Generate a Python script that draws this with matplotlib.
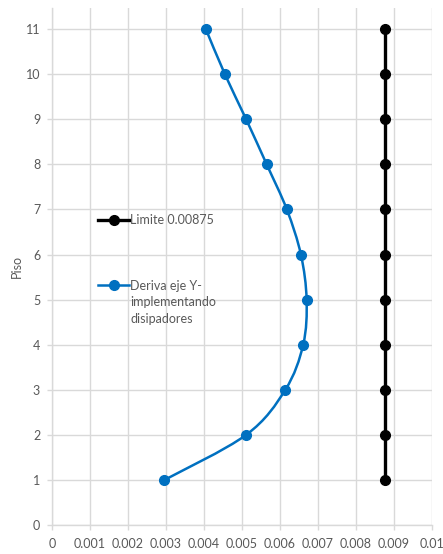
import matplotlib
matplotlib.use("Agg")
import matplotlib.pyplot as plt
from matplotlib.path import Path
from matplotlib.patches import PathPatch
from matplotlib.legend_handler import HandlerLine2D
from matplotlib.lines import Line2D

# data
pisos = [1, 2, 3, 4, 5, 6, 7, 8, 9, 10, 11]
deriva_y = [0.00296, 0.00511, 0.00614, 0.00661, 0.00670, 0.00655,
            0.00618, 0.00565, 0.00511, 0.00455, 0.00405]
limite = [0.00875] * len(pisos)
xticks = [0, 0.001, 0.002, 0.003, 0.004, 0.005, 0.006, 0.007, 0.008, 0.009, 0.01]
xtick_labels = ["0", "0.001", "0.002", "0.003", "0.004", "0.005",
                "0.006", "0.007", "0.008", "0.009", "0.01"]
yticks = list(range(0, 12))

GRAY = "#595959"
GRID = "#d9d9d9"
BLUE = "#0070c0"

plt.rcParams["font.family"] = ["Lato", "DejaVu Sans"]


def smooth_path(xs, ys):
    # excel-like smoothed line: catmull-rom segments as cubic beziers
    pts = list(zip(xs, ys))
    verts = [pts[0]]
    codes = [Path.MOVETO]
    n = len(pts)
    for i in range(n - 1):
        p0 = pts[max(i - 1, 0)]
        p1 = pts[i]
        p2 = pts[i + 1]
        p3 = pts[min(i + 2, n - 1)]
        c1 = (p1[0] + (p2[0] - p0[0]) / 6, p1[1] + (p2[1] - p0[1]) / 6)
        c2 = (p2[0] - (p3[0] - p1[0]) / 6, p2[1] - (p3[1] - p1[1]) / 6)
        verts += [c1, c2, p2]
        codes += [Path.CURVE4] * 3
    return Path(verts, codes)


class RaisedHandler(HandlerLine2D):
    # put the legend line next to the first line of a wrapped label
    def __init__(self, raise_pts, **kw):
        super().__init__(**kw)
        self.raise_pts = raise_pts

    def create_artists(self, legend, orig_handle, xdescent, ydescent,
                       width, height, fontsize, trans):
        return super().create_artists(legend, orig_handle, xdescent,
                                      ydescent - 2 * self.raise_pts,
                                      width, height, fontsize, trans)


fig = plt.figure(figsize=(4.43, 5.54), dpi=100)
ax = fig.add_axes([52 / 443, 1 - 525 / 554, 380 / 443, 517 / 554])

ax.set_xlim(0, 0.01)
ax.set_ylim(0, 11.47)

# limit line
ax.plot(limite, pisos, color="black", lw=2.4, marker="o", ms=7,
        label="Limite 0.00875", zorder=3)

# drift curve, smoothed
ax.add_patch(PathPatch(smooth_path(deriva_y, pisos), facecolor="none",
                       edgecolor=BLUE, lw=1.8, zorder=3))
ax.plot(deriva_y, pisos, ls="none", marker="o", ms=7, color=BLUE, zorder=4)
blue_handle = Line2D([], [], color=BLUE, lw=1.8, marker="o", ms=7)

ax.set_xticks(xticks)
ax.set_xticklabels(xtick_labels)
ax.set_yticks(yticks)
ax.grid(True, color=GRID, lw=1)
ax.set_axisbelow(True)
for s in ["top", "right"]:
    ax.spines[s].set_visible(False)
for s in ["left", "bottom"]:
    ax.spines[s].set_color(GRID)
    ax.spines[s].set_linewidth(1)
ax.tick_params(colors=GRID, labelcolor=GRAY, labelsize=9, length=3.5, width=1)
ax.tick_params(axis="x", pad=6)
ax.tick_params(axis="y", pad=5)
ax.set_ylabel("Piso", color=GRAY, fontsize=9, labelpad=2)

handles = [ax.get_lines()[0], blue_handle]
labels = ["Limite 0.00875", "Deriva eje Y-\nimplementando\ndisipadores"]
leg = ax.legend(handles, labels, loc="upper left",
                bbox_to_anchor=((98 - 52) / 380, (525 - 214) / 517),
                frameon=False, fontsize=9, borderpad=0, borderaxespad=0,
                handlelength=2.5, handletextpad=0.1, labelspacing=4.3,
                handler_map={blue_handle: RaisedHandler(13.0)})
for t in leg.get_texts():
    t.set_color(GRAY)
    t.set_linespacing(1.45)

fig.savefig("out.png", dpi=100)
